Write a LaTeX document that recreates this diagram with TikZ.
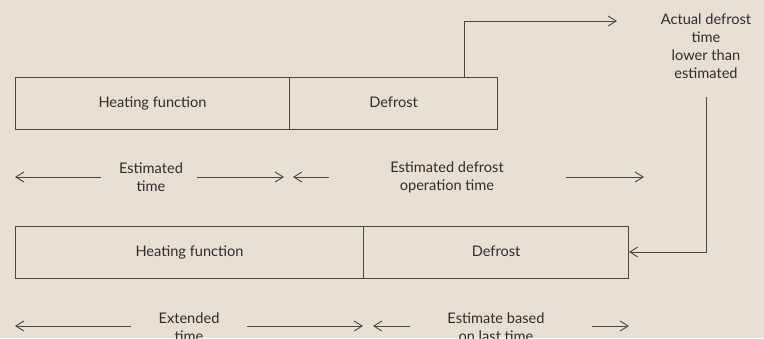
\documentclass[tikz,border=0pt]{standalone}
\usepackage{fontspec}
\setmainfont{Lato}
\usetikzlibrary{arrows.meta}
\definecolor{bg}{HTML}{E8E0D4}
\definecolor{ln}{HTML}{4A4540}
\definecolor{tx}{HTML}{2F2D2A}
\begin{document}
\begin{tikzpicture}[x=1pt,y=-1pt,
  box/.style={draw=ln,line width=1.1pt,minimum height=52pt,inner sep=0pt,anchor=north west,text=tx,text height=10.5pt,text depth=3pt,font=\fontsize{14.6}{16}\selectfont},
  lbl/.style={text=tx,align=center,font=\fontsize{14.6}{18}\selectfont,inner sep=0pt},
  arr/.style={draw=ln,line width=0.9pt,-{Straight Barb[length=8pt,width=10pt,line width=0.9pt]}}]
\fill[bg] (0,0) rectangle (764,338);
\useasboundingbox (0,0) rectangle (764,338);
% row 1 boxes
\node[box,minimum width=274pt] (h1) at (15,77) {Heating function};
\node[box,minimum width=208pt] (d1) at (289,77) {Defrost};
% row 2 boxes
\node[box,minimum width=348pt] (h2) at (15,226) {Heating function};
\node[box,minimum width=265pt] (d2) at (363,226) {Defrost};
% actual defrost label
\node[lbl] (act) at (706,46) {Actual defrost\\time\\lower than\\estimated};
\coordinate (up) at (464,77);
\coordinate (corner) at (464,21);
\coordinate (tip1) at (617,21);
\draw[arr] (up) -- (corner) -- (tip1);
\coordinate (vs) at (706,97);
\coordinate (vc) at (706,252);
\coordinate (tip2) at (629,252);
\draw[arr] (vs) -- (vc) -- (tip2);
% dimension row 1
\node[lbl] (et) at (151,177) {Estimated\\time};
\node[lbl] (edt) at (447,177) {Estimated defrost\\operation time};
\coordinate (a1l) at (15,177);
\coordinate (a1s) at (101,177);
\coordinate (a1r0) at (197,177);
\coordinate (a1r) at (284,177);
\coordinate (a2l0) at (329,177);
\coordinate (a2l) at (293,177);
\coordinate (a2r0) at (566,177);
\coordinate (a2r) at (644,177);
\draw[arr] (a1s) -- (a1l);
\draw[arr] (a1r0) -- (a1r);
\draw[arr] (a2l0) -- (a2l);
\draw[arr] (a2r0) -- (a2r);
% dimension row 2
\node[lbl] (ext) at (189,327) {Extended\\time};
\node[lbl] (eb) at (496,327) {Estimate based\\on last time};
\coordinate (b1l) at (15,326);
\coordinate (b1s) at (131,326);
\coordinate (b1r0) at (247,326);
\coordinate (b1r) at (363,326);
\coordinate (b2l0) at (410,326);
\coordinate (b2l) at (373,326);
\coordinate (b2r0) at (592,326);
\coordinate (b2r) at (629,326);
\draw[arr] (b1s) -- (b1l);
\draw[arr] (b1r0) -- (b1r);
\draw[arr] (b2l0) -- (b2l);
\draw[arr] (b2r0) -- (b2r);
\end{tikzpicture}
\end{document}
